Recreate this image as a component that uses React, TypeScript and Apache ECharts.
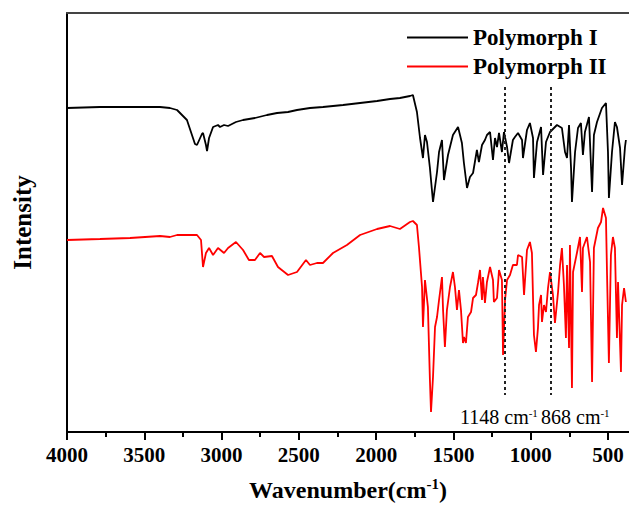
import React, { useEffect, useRef } from "react";
import * as echarts from "echarts";

// Wavenumber (cm^-1) / relative intensity pairs
const polymorphIWavenumber = [
  4000, 3787, 3592, 3398, 3334, 3288, 3224, 3172, 3159, 3127, 3120, 3101, 3094, 3081, 3055, 3023, 3010, 2984, 2958, 2907,
  2861, 2784, 2706, 2641, 2570, 2512, 2428, 2344, 2279, 2214, 2104, 1994, 1910, 1846, 1781, 1762, 1736, 1716, 1697, 1684,
  1671, 1652, 1632, 1606, 1593, 1574, 1561, 1535, 1503, 1470, 1445, 1432, 1412, 1393, 1373, 1348, 1335, 1315, 1296, 1283,
  1263, 1244, 1231, 1218, 1205, 1186, 1173, 1153, 1140, 1115, 1102, 1082, 1056, 1050, 1024, 1005, 985, 979, 959, 933,
  920, 901, 875, 830, 798, 778, 765, 752, 739, 733, 713, 694, 675, 662, 649, 623, 603, 591, 571, 539,
  513, 500, 494, 474, 455, 442, 422, 409, 390, 384,
];
const polymorphIIntensity = [
  324, 325, 325, 325, 324, 322, 312, 288, 287, 298, 299, 287, 281, 294, 305, 307, 305, 307, 306, 310,
  312, 314, 317, 319, 320, 322, 324, 325, 326, 327, 329, 331, 333, 334, 336, 337, 320, 294, 274, 297,
  290, 264, 230, 260, 280, 292, 252, 277, 297, 305, 289, 269, 244, 255, 259, 282, 270, 287, 292, 297,
  300, 272, 294, 285, 299, 280, 300, 285, 269, 292, 295, 299, 292, 274, 302, 309, 294, 254, 290, 305,
  257, 290, 300, 307, 304, 280, 274, 307, 264, 230, 280, 304, 309, 277, 300, 315, 240, 297, 310, 324,
  329, 280, 234, 280, 310, 305, 284, 247, 285, 292,
];

const polymorphIIWavenumber = [
  4000, 3787, 3592, 3398, 3334, 3288, 3159, 3133, 3120, 3101, 3081, 3055, 3023, 2984, 2958, 2907, 2861, 2823, 2784, 2751,
  2725, 2674, 2635, 2570, 2512, 2454, 2428, 2383, 2344, 2279, 2189, 2104, 1994, 1910, 1846, 1781, 1762, 1736, 1723, 1703,
  1697, 1684, 1665, 1652, 1645, 1632, 1619, 1606, 1593, 1574, 1567, 1555, 1542, 1522, 1503, 1490, 1477, 1464, 1451, 1438,
  1432, 1419, 1406, 1386, 1373, 1354, 1341, 1328, 1315, 1309, 1296, 1283, 1263, 1244, 1238, 1218, 1205, 1186, 1179, 1166,
  1153, 1134, 1115, 1089, 1082, 1056, 1043, 1024, 1005, 992, 979, 966, 953, 946, 933, 927, 914, 901, 888, 875,
  856, 843, 823, 810, 798, 785, 772, 765, 752, 746, 733, 726, 701, 681, 668, 662, 636, 616, 603, 591,
  565, 545, 532, 513, 506, 494, 481, 468, 455, 442, 435, 416, 409, 396, 384,
];
const polymorphIIIntensity = [
  192, 193, 194, 196, 195, 197, 197, 192, 165, 179, 184, 177, 184, 179, 184, 190, 182, 172, 172, 179,
  175, 176, 165, 157, 160, 172, 167, 169, 169, 179, 187, 197, 203, 206, 203, 210, 211, 207, 185, 145,
  105, 152, 125, 52, 20, 55, 105, 115, 132, 155, 122, 85, 122, 145, 160, 145, 122, 142, 122, 89,
  95, 89, 115, 120, 134, 137, 149, 162, 132, 155, 129, 150, 165, 152, 130, 134, 162, 152, 77, 132,
  152, 157, 167, 167, 177, 175, 137, 182, 190, 179, 97, 80, 104, 127, 137, 110, 127, 120, 144, 160,
  137, 109, 140, 167, 184, 147, 94, 167, 84, 187, 44, 160, 179, 195, 140, 184, 195, 170, 50, 184,
  204, 210, 224, 214, 157, 69, 177, 195, 184, 94, 150, 60, 127, 144, 130,
];

const seriesNames = ["Polymorph I", "Polymorph II"];
const xMajorTicks = [4000, 3500, 3000, 2500, 2000, 1500, 1000, 500];
const xMinorTicks = [3750, 3250, 2750, 2250, 1750, 1250, 750];
const markerPositions = [1165, 868];
const markerLabels = ["1148", "868"];
const markerTop = 345;
const markerBottom = 37;

const FONT = "'Liberation Serif', 'Times New Roman', 'DejaVu Serif', serif";

function zip(xs: number[], ys: number[]) {
  return xs.map((x, i) => [x, ys[i]]);
}

export default function App() {
  const ref = useRef<HTMLDivElement>(null);

  useEffect(() => {
    if (!ref.current) return;
    const chart = echarts.init(ref.current, undefined, { renderer: "svg" });
    const xRange = { min: 364, max: 4000, inverse: true, type: "value" as const };

    chart.setOption({
      animation: false,
      backgroundColor: "#ffffff",
      grid: { left: 67, top: 13, right: 0, bottom: 79 },
      legend: {
        data: seriesNames,
        orient: "vertical",
        left: 407,
        top: 26,
        padding: 0,
        icon: "rect",
        itemWidth: 61,
        itemHeight: 2,
        itemGap: 6,
        textStyle: { fontFamily: FONT, fontSize: 23, fontWeight: "bold", color: "#000" },
      },
      xAxis: [
        {
          ...xRange,
          position: "bottom",
          name: "Wavenumber(cm{sup|-1})",
          nameLocation: "middle",
          nameGap: 44,
          nameTextStyle: {
            fontFamily: FONT,
            fontSize: 24,
            fontWeight: "bold",
            color: "#000",
            lineHeight: 27,
            rich: {
              sup: { fontFamily: FONT, fontSize: 15, fontWeight: "bold", color: "#000", verticalAlign: "top", lineHeight: 27 },
            },
          },
          axisLine: { show: true, lineStyle: { color: "#000", width: 2 } },
          axisTick: { show: true, customValues: xMajorTicks, length: 8, lineStyle: { color: "#000", width: 2 } },
          axisLabel: {
            customValues: xMajorTicks,
            formatter: (v: number) => String(v),
            margin: 12,
            fontFamily: FONT,
            fontSize: 21,
            fontWeight: "bold",
            color: "#000",
          },
          splitLine: { show: false },
        },
        {
          ...xRange,
          position: "bottom",
          axisLine: { show: true, lineStyle: { color: "#000", width: 2 } },
          axisTick: { show: true, customValues: xMinorTicks, length: 5, lineStyle: { color: "#000", width: 2 } },
          axisLabel: { show: false },
          splitLine: { show: false },
        },
        {
          ...xRange,
          position: "top",
          axisLine: { show: true, lineStyle: { color: "#444", width: 2 } },
          axisTick: { show: false },
          axisLabel: { show: false },
          splitLine: { show: false },
        },
      ],
      yAxis: {
        type: "value",
        min: 0,
        max: 419,
        name: "Intensity",
        nameLocation: "middle",
        nameRotate: 90,
        nameGap: 32,
        nameTextStyle: { fontFamily: FONT, fontSize: 25, fontWeight: "bold", color: "#000" },
        axisLine: { show: true, lineStyle: { color: "#000", width: 2 } },
        axisTick: { show: false },
        axisLabel: { show: false },
        splitLine: { show: false },
      },
      series: [
        {
          name: seriesNames[0],
          type: "line",
          xAxisIndex: 0,
          data: zip(polymorphIWavenumber, polymorphIIntensity),
          showSymbol: false,
          symbol: "none",
          lineStyle: { color: "#000", width: 1.8 },
          itemStyle: { color: "#000" },
          markLine: {
            silent: true,
            symbol: "none",
            label: { show: false },
            lineStyle: { color: "#222", width: 2, type: [3, 3] },
            data: markerPositions.map((p) => [{ coord: [p, markerTop] }, { coord: [p, markerBottom] }]),
          },
        },
        {
          name: seriesNames[1],
          type: "line",
          xAxisIndex: 0,
          data: zip(polymorphIIWavenumber, polymorphIIIntensity),
          showSymbol: false,
          symbol: "none",
          lineStyle: { color: "#ff0000", width: 1.8 },
          itemStyle: { color: "#ff0000" },
        },
      ],
      graphic: markerLabels.map((lab, i) => ({
        type: "text",
        left: i === 0 ? 460 : 541,
        top: 407,
        style: {
          text: `${lab} cm{sup|-1}`,
          fontFamily: FONT,
          fontSize: 20,
          fill: "#000",
          rich: { sup: { fontFamily: FONT, fontSize: 11, fill: "#000", verticalAlign: "top" } },
        },
      })),
    });
    return () => chart.dispose();
  }, []);

  return <div ref={ref} style={{ position: "absolute", left: 0, top: 0, width: 629, height: 511 }} />;
}
